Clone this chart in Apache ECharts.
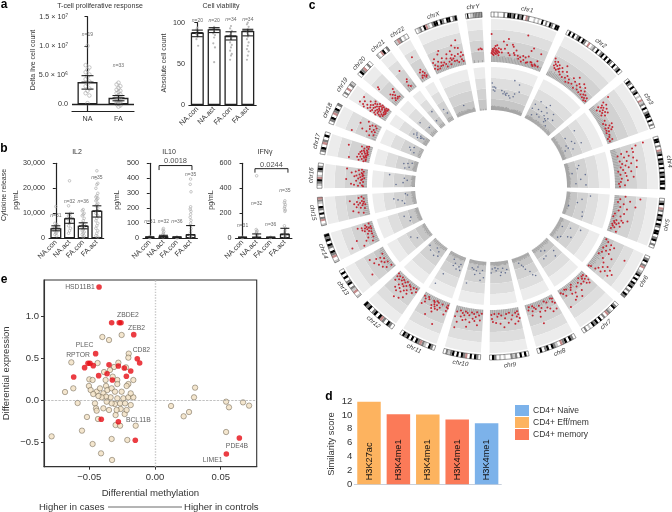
<!DOCTYPE html>
<html>
<head>
<meta charset="utf-8"/>
<title>T-cell panels</title>
<style>html,body{margin:0;padding:0;background:#fff}#chart{width:672px;height:512px}</style>
<script src="https://cdn.jsdelivr.net/npm/echarts@6/dist/echarts.min.js"></script>
</head>
<body>
<div id="chart"></div>
<script>
// panel a
const groupsA = ['NA','FA'];
const groups4 = ['NA.con','NA.act','FA.con','FA.act'];
const deltaMeans = [3800000,1100000];
const deltaLow = [2600000,600000];
const deltaHigh = [4900000,1500000];
const deltaDots = [
  [10,6.7,6.3,5.9,5.5,5.1,4.7,4.3,3.9,3.5,3.1,2.7,2.3,1.9,1.5,0.2],
  [3.7,3.4,3.1,2.8,2.5,2.3,2.1,1.9,1.7,1.5,1.3,1.2,1,0.9,0.8,0.7,0.6,0.5,0.4,0.3,0.2,0.1,0,-0.2,-0.4]
];
const deltaN = ['19','33'];
const deltaNy = [11900000,6700000];
const deltaTicks = [0,5000000,10000000,15000000];
const deltaTickText = ['0.0','5.0 × 10⁶','1.0 × 10⁷','1.5 × 10⁷'];

const viabMeans = [88,92,84,90];
const viabLow = [83,88,79,84];
const viabHigh = [91,94,89,92];
const viabDots = [
  [94,92,90,88,86,85,83,80,72],
  [95,93,91,89,87,85,82,75,70,52],
  [96,93,90,88,85,82,80,76,73,70,66,62,60,55],
  [100,98,95,92,88,85,83,80,76,72,68,65,60,55]
];
const viabN = ['20','20','34','34'];
const viabNy = [103,103,104,104];

// panel b
const il2Means = [4000,8000,5000,11000];
const il2Low = [3000,6000,3800,8500];
const il2High = [5000,10000,6200,13000];
const il2Dots = [
  [12700,6000,5500,5000,4500,4000,3500,3000,2500,2000,1500,1000],
  [23000,13000,10000,9500,9000,8500,8000,7500,7000,6000,5000,4000,3000,2000],
  [11500,11000,10000,9500,9000,8000,7000,6000,5500,5000,4500,4000,3500,3000,2500,2000,1500,1000,500],
  [27000,24000,22000,21500,20000,18000,17000,16500,16000,15500,15000,14000,13500,13000,12000,11000,10000,9000,8000,7000,6000,5000,4000,3000,2000,1000,500]
];
const il2N = ['31','32','36','35'];
const il2Ny = [9200,14800,14700,24200];

const il10Means = [8,12,8,25];
const il10Low = [5,2,5,0];
const il10High = [10,20,10,85];
const il10Dots = [
  [10,8,6,4],
  [65,55,45,35,25,15,10,5],
  [8,5,3],
  [395,360,310,210,195,180,160,140,120,100,85,65,45,30,20,10,5]
];
const il10N = ['31','32','36','35'];
const il10Ny = [112,112,112,425];

const ifnMeans = [8,10,8,35];
const ifnLow = [5,2,5,0];
const ifnHigh = [10,35,10,80];
const ifnDots = [
  [8,5],
  [500,70,60,50,40,30,20,10],
  [8,5],
  [300,285,270,255,240,225,215,100,80,60,40,20,10]
];
const ifnN = ['31','32','36','35'];
const ifnNy = [98,280,112,380];

const il10Bracket = [[0.68,455],[0.68,485],[3.1,485],[3.1,455]];
const ifnBracket = [[0.88,525],[0.88,557],[3.22,557],[3.22,525]];

// panel c, chromosome lengths in Mb
const chromNames = ['chr1','chr2','chr3','chr4','chr5','chr6','chr7','chr8','chr9','chr10','chr11','chr12','chr13','chr14','chr15','chr16','chr17','chr18','chr19','chr20','chr21','chr22','chrX','chrY'];
const chromMb = [249,243,198,191,181,171,159,146,141,135,135,133,115,107,102,90,81,78,59,63,48,51,155,59];
const chromGapDeg = 3;
const outerBands = [124,135,146,156.5,167];
const innerBands = [76,87,97.5,108,119];
const ideoRadii = [169,174];
const ideograms = [
  'wlwlwwgwkkgkwkgkwrgwwlwlwkwgwkgwkk','wkwkwgkwkgwrwlgwkwgkwkwkgwkwgkw','wkgwkwgkwlwrlgwkwgkkwkwgw','wkkwgwrgkwkgkwkwkgkwkkwk',
  'wgkwrgwkgkwkgwkkwgkwgw','wgkwgrwlgkwkwkgkwgwkg','wgkwlgrwgwkwkgkwlwgw','wgkwkgrwlgkwkgwkw',
  'wkwkwglgwwlwlwgkw','wgkwkwrgkwkwkglgw','wgkwlgrgkwkwkgkw','wgkwgrkwkgwkgk',
  'lwrlgwkgwkwkw','lwrgkwgkwkgk','lwrgwkwgkwlgr','wlgkrlwgkgw','wgkwrgwkw','wgkwrgkwg','wgwrwgl','wkgrwgw','lwrkwg','lrgwlw',
  'wlgwkrlwgkkwkgwkkwgk','wkwllgggggg'
];
const tickShades = [
  '8989878897888868978656768787968867',
  '578697886768979887786977868598786',
  '88796788678779868798788697',
  '7787978677986778968787768',
  '687787968778687967776',
  '78976787878696787787',
  '678987687968878797',
  '78687968798768797',
  '7698767899878767',
  '768778967886787',
  '867987678978679',
  '76878967889776',
  '5768796876875',
  '687978687967',
  '76887968798',
  '6978769887',
  '799887998',
  '6787868',
  '9999999',
  '8797868',
  '68878',
  '79988',
  '778979878789876797',
  '433'
];
// [position in % of chromosome, radius]
const redDots = [
  [1,133,2,135,3,137,3,132,4,134,5,136,5,131,6,138,7,133,8,135,8,140,9,132,9,137,10,134,11,136,11,141,12,133,13,135,14,138,14,131,15,134,1,152,18,137,20,134,22,145,25,138,28,142,30,148,32,134,35,132,38,143,40,141,42,135,44,133,60,155,46,138,50,133,52,130,55,132,58,128,60,134,62,130,65,133,68,128,70,135,72,141,75,144,78,130,80,128,82,127,85,129,87,128,88,133,90,141,92,128,76,130,70,129],
  [3,143,5,140,6,136,8,138,9,134,10,141,12,137,13,133,15,139,16,135,18,136,20,133,22,138,24,131,26,135,28,142,30,130,33,137,36,131,38,134,41,128,44,132,47,129,50,136,53,130,56,134,58,140,60,128,63,132,65,135,68,129,70,133,72,138,74,128,76,131,78,136,80,128,82,133,84,130,86,127,88,131,90,128,92,126,94,130,96,127],
  [5,147,8,140,10,133,12,137,14,130,15,135,16,141,18,137,20,132,22,135,24,139,26,133,28,136,30,131,32,138,35,134,55,130,58,136,60,133,62,128,64,131,66,135,68,128,70,133,72,130,74,127,80,129,85,128,88,126,92,130,95,127,45,131,50,128],
  [4,158,6,150,10,146,14,140,16,134,18,146,20,130,24,141,26,136,30,145,33,131,35,138,38,148,40,133,42,142,45,136,48,131,50,139,52,147,55,133,58,128,60,141,63,135,66,130,70,136,73,143,76,131,80,137,84,130,88,128,92,134,95,129],
  [3,135,6,150,10,130,14,140,18,128,22,134,26,146,30,131,34,138,40,130,46,136,50,127,54,133,58,126,62,141,64,135,66,130,68,137,70,128,72,133,74,129,76,131,78,127,80,135,82,128,85,130,90,127,95,133],
  [5,127,10,130,14,134,18,138,22,130,26,135,30,128,34,132,38,136,42,129,46,141,50,127,55,133,33,153,64,136,68,142,72,146,75,138,78,150,80,142,83,135,86,147,88,139,90,133,92,128,95,126],
  [3,131,6,135,8,128,10,138,12,132,14,128,16,136,18,130,20,133,25,127,30,133,35,130,40,138,45,132,50,143,55,127,58,136,60,129,62,140,65,131,68,135,70,142,75,128,80,127,85,133,90,130,92,145,95,128],
  [4,133,6,128,8,139,10,131,12,127,20,140,25,136,28,129,32,134,35,127,42,136,50,132,55,129,58,135,62,140,68,131,72,129,76,127,80,132,84,136,88,127,92,130,60,147],
  [3,135,5,131,7,128,9,138,11,133,14,129,20,140,25,131,30,135,35,128,40,138,45,129,50,133,55,142,62,130,66,138,70,128,75,131,80,137,85,128,90,136,95,129,93,133],
  [5,128,10,135,14,130,18,140,22,127,25,132,28,136,32,129,35,134,40,128,44,138,48,131,52,143,55,129,58,136,62,128,65,132,68,137,72,130,76,134,80,128,85,140,88,146,92,130,95,135],
  [3,130,5,127,6,133,8,129,10,137,25,128,30,132,32,150,35,135,40,128,42,131,44,135,46,127,48,133,50,139,52,131,54,129,56,136,58,128,60,133,75,129,80,127,85,133,88,130,92,136,95,128,65,144],
  [5,130,10,127,15,133,20,128,25,131,28,137,30,142,32,129,35,134,38,128,40,145,42,136,45,131,48,139,50,127,52,133,54,147,56,129,58,137,60,132,62,141,65,128,68,135,70,130,72,139,75,127,80,131,85,128,88,134,92,130,95,127],
  [15,127,20,132,30,135,35,128,40,131,45,137,50,133,55,129,60,140,65,132,70,136,75,128,80,142,30,148],
  [10,140,15,130,20,152,25,136,30,128,35,133,40,145,45,128,50,132,55,128,60,130,65,134,68,127,70,131,72,136,74,129,76,133,78,127,80,131,82,136,85,140,88,132,92,128],
  [15,130,20,135,30,140,35,128,40,132,45,136,50,130,52,127,55,134,58,129,60,138,62,132,65,128,68,135,70,130,75,142,80,128,85,133,90,130],
  [8,128,10,133,12,129,15,137,20,140,25,131,30,128,35,135,40,130,42,145,45,129,48,133,50,127,55,131,58,137,60,129,62,135,65,128,68,132,72,129,75,140,78,130,82,136,85,128,90,133,92,145,95,130],
  [5,130,8,135,10,128,12,145,15,132,18,128,22,137,25,130,28,134,30,128,33,131,36,129,40,136,42,128,45,133,48,127,50,130,52,135,55,128,58,131,60,134,63,128,66,132,70,129,73,148,78,132,82,128,85,135,90,130,95,128],
  [10,150,20,132,30,128,35,136,40,141,45,131,50,128,55,134,60,130,65,145,70,135,75,128,80,133,85,130,90,138],
  [5,136,8,142,10,150,12,131,14,138,16,146,18,133,20,141,22,152,24,135,26,129,28,144,30,138,32,131,34,148,36,135,38,141,40,129,42,137,44,133,46,145,48,128,50,140,52,135,54,130,56,143,58,136,60,128,62,139,64,133,66,147,68,130,70,137,72,142,74,129,76,134,78,140,80,131,82,136,84,128,86,143,88,133,90,138,92,130,94,135,96,128,45,152,65,155,25,156],
  [20,150,30,132,35,128,40,136,45,130,50,134,55,128,60,132,65,129,70,135,75,128,80,138,15,148],
  [40,130,50,134,55,128,65,136,60,147],
  [30,128,35,134,40,130,50,136,55,129,60,133,65,127,70,131,75,128,45,151],
  [3,130,5,136,8,133,10,128,12,139,14,131,18,128,20,135,24,130,26,142,28,133,30,130,32,145,34,137,36,132,40,130,42,127,46,135,50,139,52,131,55,128,58,134,60,132,62,141,64,137,66,133,68,130,70,146,72,135,75,130,78,143,80,128,82,136,84,150,86,142,88,133,90,130,92,137,94,128,96,134],
  [60,137,75,138,85,137]
];
const blueDots = [
  [3,103,5,99,6,96,9,99,10,95,12,98,28,96,32,93,35,95,38,93,40,92,42,94,48,92,52,90,55,108,60,92,62,95,68,105,72,98],
  [8,88,10,93,15,82,20,98,25,90,28,85,35,90,38,84,40,96,48,88,50,92,55,86,58,83,60,85,62,88,66,95,70,81,75,90,45,100],
  [25,100,30,88,50,92,55,85,60,94,65,86,70,82,75,90,68,100],
  [20,90,30,88,45,82,55,95,70,90,85,85,90,95],
  [10,100,25,92,40,88,60,80,70,95,85,96],
  [15,100,25,90,35,82,55,95,75,86,85,84,60,92],
  [20,90,30,95,50,84,60,89,65,82,75,90],
  [20,100,35,94,50,90,55,87,60,85,70,82,30,98],
  [15,85,25,88,35,83,45,87,50,90,60,83,70,85,75,82,90,83,95,87],
  [10,92,18,85,25,95,30,88,45,82,50,86,55,90,65,85,75,84,85,100],
  [10,90,15,84,30,90,45,85,50,88,60,82,75,100,85,112,20,87],
  [20,88,30,84,40,90,50,82,70,88,90,85],
  [45,90,70,95],
  [30,88,50,86,70,92],
  [40,90,60,98,75,84,20,88,85,86,50,94],
  [20,95,35,88,55,84,70,87,85,102],
  [15,88,30,84,50,90,60,86,72,82],
  [30,84,40,88,60,90,75,86],
  [35,88,50,85,60,84,70,86,45,93,55,90,65,82,75,91],
  [30,95,60,85],
  [30,85,60,95],
  [40,90,60,85],
  [50,85],
  []
];

// panel d
const histones = ['H3K27ac','H3K4me1','H3K4me1','H3K4me1','H3K4me1'];
const scoreNaive = [null,null,null,null,8.8];
const scoreEffMem = [11.9,null,10.05,null,null];
const scoreMemory = [null,10.1,null,9.35,null];

// panel e
const tanPoints = [
  [-0.0401,0.75],[-0.035,0.714],[-0.0254,0.774],[-0.0637,0.448],[-0.0437,0.44],[-0.02,0.552],[-0.0203,0.504],[-0.0279,0.444],[-0.0312,0.393],[-0.0388,0.333],[-0.0343,0.357],[-0.0221,0.389],[-0.0165,0.238],[-0.05,0.246],[-0.0475,0.238],[-0.0376,0.238],[-0.0322,0.278],[-0.0287,0.238],[-0.0203,0.19],[-0.0287,0.19],[-0.0622,0.139],[-0.0685,0.095],[-0.0503,0.167],[-0.049,0.119],[0.0305,0.147],[0.0297,0.032],[-0.0589,-0.036],[0.0122,-0.071],[0.0218,-0.194],[0.0259,-0.143],[0.0541,-0.02],[0.0563,-0.087],[0.067,-0.028],[0.0716,-0.067],[0.0541,-0.381],[-0.0787,-0.433],[-0.0556,-0.365],[-0.0475,-0.524],[-0.0411,-0.635],[-0.0327,-0.714],[-0.033,-0.464],[-0.0211,-0.476],[-0.0518,-0.202],[-0.0434,-0.226],[-0.03,-0.298],[-0.0266,-0.306],[-0.0147,-0.306],[-0.03,-0.179],[-0.0231,-0.167],[-0.0216,-0.119],
  [-0.0444,0.099],[-0.0419,0.139],[-0.0393,0.079],[-0.0373,0.167],[-0.0363,0.119],[-0.033,0.139],[-0.0305,0.099],[-0.0338,0.032],[-0.0373,0.04],[-0.0406,0.032],[-0.0431,0.048],[-0.047,0.071],[-0.0457,-0.04],[-0.0449,-0.099],[-0.0444,-0.127],[-0.0393,-0.099],[-0.035,-0.119],[-0.0305,-0.048],[-0.0266,-0.04],[-0.0241,0.02],[-0.0203,0.032],[-0.0165,0.032],[-0.0185,0.079],[-0.0216,0.167],[-0.0254,0.099],[-0.0287,0.02],[-0.033,-0.04],[-0.0368,-0.02],[-0.0261,-0.107],[-0.0228,-0.04],[-0.0185,-0.06],[-0.0292,-0.119]
];
const redPoints = [
  [-0.0426,1.345],[-0.033,0.92],[-0.0272,0.92],[-0.0259,0.92],[-0.0162,0.778],[-0.0452,0.552],[-0.0135,0.492],[-0.0117,0.44],[-0.051,0.437],[-0.0536,0.385],[-0.0495,0.437],[-0.047,0.409],[-0.035,0.42],[-0.0279,0.405],[-0.0234,0.381],[-0.0185,0.345],[-0.0365,0.313],[-0.0429,0.29],[-0.0218,0.282],[-0.0325,0.238],[-0.0619,0.274],[-0.0409,-0.23],[-0.0279,-0.258],[-0.015,-0.48],[0.0642,-0.452],[0.0543,-0.643]
];
const geneNames = ['HSD11B1','ZBDE2','ZEB2','CD82','PLEC','RPTOR','BCL11B','PDE4B','LIME1'];
const geneSpots = [[-0.0571,1.345],[-0.0206,1.008],[-0.014,0.857],[-0.0104,0.591],[-0.0536,0.659],[-0.0586,0.532],[-0.0127,-0.238],[0.0624,-0.552],[0.0439,-0.714]];
const methTicks = [-0.05,0,0.05];
const exprTicks = [-0.5,0,0.5,1];

const font = '"Liberation Sans", Arial, sans-serif';
const ink = '#222';
const dotGrey = '#a8a8a8';
const sectorFills = ['#ececec','#dedede','#d2d2d2','#c6c6c6','#fff','#c8c8c8','#808080','#000','#c58a8a'];
const ideoColor = {w:4,l:5,g:6,k:7,r:8};

let grids = [], xAxes = [], yAxes = [], series = [];

function textPoints(xi, yi, rows, size, color) {
  return {
    type:'scatter', xAxisIndex:xi, yAxisIndex:yi, symbolSize:0, clip:false, z:6, silent:true,
    data: rows.map(r => ({name:r[0], value:[r[1],r[2]]})),
    label:{show:true, position:'inside', formatter:p=>p.name, fontSize:size, color:color||'#333', fontFamily:font,
      rich:{i:{fontStyle:'italic',fontSize:size,color:color||'#333',fontFamily:font}}}
  };
}

// one bar panel with dots, error bars and n labels
function addBars(p) {
  let k = grids.length, xi = xAxes.length, yi = yAxes.length;
  grids.push({left:p.left, width:p.width, top:p.top, height:p.height});
  xAxes.push({gridIndex:k, type:'category', data:p.cats, position:'bottom',
    axisLine:{onZero:false, lineStyle:{color:ink,width:1.2}},
    axisTick:{alignWithLabel:true,length:3,lineStyle:{color:ink,width:1}},
    axisLabel:{rotate:p.rotate||0,fontSize:7.2,color:'#333',margin:p.rotate?3:5,fontFamily:font,interval:0}});
  xAxes.push({gridIndex:k, type:'value', min:-0.5, max:p.cats.length-0.5, show:false});
  let y = {gridIndex:k, type:'value', min:p.min, max:p.max, splitLine:{show:false},
    axisLine:{show:true,lineStyle:{color:ink,width:1.2}},
    axisTick:{show:true,length:3,lineStyle:{color:ink,width:1}, customValues:p.ticks},
    axisLabel:{fontSize:7.2,color:'#333',margin:4,fontFamily:font, customValues:p.ticks,
      formatter:v=>p.tickText[p.ticks.indexOf(v)]}};
  yAxes.push(y);
  let bar = {type:'bar', xAxisIndex:xi, yAxisIndex:yi, data:p.means, barWidth:p.barWidth, z:2,
    itemStyle:{color:'#fff',borderColor:ink,borderWidth:1.3}};
  if (p.zeroLine) bar.markLine = {silent:true,symbol:'none',label:{show:false},data:[{yAxis:0}],lineStyle:{color:ink,width:1.3,type:'solid'}};
  series.push(bar);
  let dots = [];
  p.dots.forEach((list,c) => list.forEach((v,i) => dots.push([c+[0,-1,1][i%3]*p.spread, v*(p.dotScale||1)])));
  series.push({type:'scatter', xAxisIndex:xi+1, yAxisIndex:yi, data:dots, symbolSize:p.dotSize, z:3, clip:false,
    itemStyle: p.filled ? {color:dotGrey} : {color:'rgba(255,255,255,0)',borderColor:dotGrey,borderWidth:0.8}});
  series.push({type:'custom', xAxisIndex:xi+1, yAxisIndex:yi, z:4,
    data:p.low.map((l,i)=>[i,l,p.high[i],p.means[i]]),
    renderItem:function(params,api){
      let a=api.coord([api.value(0),api.value(1)]), b=api.coord([api.value(0),api.value(2)]), m=api.coord([api.value(0),api.value(3)]);
      let s={stroke:ink,lineWidth:1.1}, w=p.cap;
      return {type:'group',children:[
        {type:'line',shape:{x1:a[0],y1:a[1],x2:b[0],y2:b[1]},style:s},
        {type:'line',shape:{x1:a[0]-w,y1:a[1],x2:a[0]+w,y2:a[1]},style:s},
        {type:'line',shape:{x1:b[0]-w,y1:b[1],x2:b[0]+w,y2:b[1]},style:s},
        {type:'line',shape:{x1:m[0]-w,y1:m[1],x2:m[0]+w,y2:m[1]},style:s}
      ]};
    }});
  series.push(textPoints(xi+1, yi, p.n.map((t,i)=>['{i|n}='+t, i, p.ny[i]]), 5, '#444'));
  if (p.bracket) {
    series.push({type:'line', xAxisIndex:xi+1, yAxisIndex:yi, data:p.bracket, symbol:'none', clip:false, z:5,
      lineStyle:{color:ink,width:1}});
    series.push(textPoints(xi+1, yi, [[p.bracketText, (p.bracket[0][0]+p.bracket[2][0])/2, p.bracketTextY]], 7.5, '#222'));
  }
}

addBars({left:72,width:62,top:16.7,height:94.3,cats:groupsA,means:deltaMeans,low:deltaLow,high:deltaHigh,
  dots:deltaDots,dotScale:1000000,n:deltaN,ny:deltaNy,min:-1150000,max:15000000,ticks:deltaTicks,tickText:deltaTickText,
  barWidth:20,cap:6,dotSize:3.6,spread:0.06,zeroLine:true});
addBars({left:188.9,width:67.3,top:22.7,height:82.3,cats:groups4,means:viabMeans,low:viabLow,high:viabHigh,
  dots:viabDots,n:viabN,ny:viabNy,min:0,max:100,ticks:[0,50,100],tickText:['0','50','100'],
  barWidth:13,cap:5.5,dotSize:2.2,spread:0.05,filled:true,rotate:45});
addBars({left:49,width:54.7,top:163.3,height:75,cats:groups4,means:il2Means,low:il2Low,high:il2High,
  dots:il2Dots,n:il2N,ny:il2Ny,min:0,max:30000,ticks:[0,10000,20000,30000],tickText:['0','10,000','20,000','30,000'],
  barWidth:11,cap:4.5,dotSize:2.6,spread:0.07,rotate:45});
addBars({left:143,width:54.4,top:163.3,height:75,cats:groups4,means:il10Means,low:il10Low,high:il10High,
  dots:il10Dots,n:il10N,ny:il10Ny,min:0,max:500,ticks:[0,100,200,300,400,500],tickText:['0','100','200','300','400','500'],
  barWidth:10,cap:4.5,dotSize:2.6,spread:0.03,rotate:45,bracket:il10Bracket,bracketText:'0.0018',bracketTextY:515});
addBars({left:235.5,width:56.4,top:163.3,height:75,cats:groups4,means:ifnMeans,low:ifnLow,high:ifnHigh,
  dots:ifnDots,n:ifnN,ny:ifnNy,min:0,max:600,ticks:[0,200,400,600],tickText:['0','200','400','600'],
  barWidth:10,cap:4.5,dotSize:2.6,spread:0.03,rotate:45,bracket:ifnBracket,bracketText:'0.0244',bracketTextY:590});

// panel d, three series so the legend gets its colours
{
  let k=grids.length, xi=xAxes.length, yi=yAxes.length;
  grids.push({left:354.3,width:147,top:401,height:83.3});
  xAxes.push({gridIndex:k,type:'category',data:histones,axisLine:{lineStyle:{color:'#c8d0dc',width:1}},axisTick:{show:false},axisLabel:{show:false}});
  yAxes.push({gridIndex:k,type:'value',min:0,max:12,interval:2,splitLine:{show:false},axisLine:{show:false},axisTick:{show:false},
    axisLabel:{fontSize:9.5,color:'#333',margin:2,fontFamily:font}});
  [['CD4+ Naive',scoreNaive,'#7cb2ea'],['CD4+ Eff/mem',scoreEffMem,'#fdb35f'],['CD4+ memory',scoreMemory,'#fb7a58']].forEach(s=>{
    series.push({name:s[0],type:'bar',xAxisIndex:xi,yAxisIndex:yi,data:s[1],barWidth:23.5,barGap:'-100%',
      itemStyle:{color:s[2]},
      label:{show:true,position:'insideBottom',rotate:90,align:'left',verticalAlign:'middle',distance:4,fontSize:9.2,color:'#111',fontFamily:font,
        formatter:p=>histones[p.dataIndex]}});
  });
}

// panel e
{
  let k=grids.length, xi=xAxes.length, yi=yAxes.length;
  grids.push({left:44,width:212.7,top:280,height:186.7,show:true,borderColor:'#333',borderWidth:1.1,backgroundColor:'#fff'});
  xAxes.push({gridIndex:k,type:'value',min:-0.0845,max:0.0774,splitLine:{show:false},
    axisLine:{onZero:false,lineStyle:{color:'#333',width:1.1}},axisTick:{length:3,lineStyle:{color:'#333'},customValues:methTicks},
    axisLabel:{fontSize:9.5,color:'#333',margin:6,fontFamily:font,customValues:methTicks,
      formatter:v=>v===0?'0.00':(v<0?'−':'')+Math.abs(v).toFixed(2)},
    name:'Differential methylation',nameLocation:'middle',nameGap:22,nameTextStyle:{fontSize:9.6,color:'#333',fontFamily:font}});
  yAxes.push({gridIndex:k,type:'value',min:-0.794,max:1.4286,splitLine:{show:false},
    axisLine:{onZero:false,lineStyle:{color:'#333',width:1.1}},axisTick:{length:3,lineStyle:{color:'#333'},customValues:exprTicks},
    axisLabel:{fontSize:9.5,color:'#333',margin:5,fontFamily:font,customValues:exprTicks,
      formatter:v=>v===0?'0.0':(v<0?'−':'')+Math.abs(v).toFixed(1)},
    name:'Differential expression',nameLocation:'middle',nameGap:33,nameTextStyle:{fontSize:9.5,color:'#333',fontFamily:font}});
  series.push({type:'scatter',xAxisIndex:xi,yAxisIndex:yi,data:tanPoints,symbolSize:5.4,z:3,
    itemStyle:{color:'#f1e0c2',borderColor:'#5c5240',borderWidth:0.6},
    markLine:{silent:true,symbol:'none',label:{show:false},data:[
      {xAxis:0,lineStyle:{color:'#c9c9c9',width:1.4,type:'dotted'}},
      {yAxis:0,lineStyle:{color:'#999',width:0.6,type:'dashed'}}]}});
  series.push({type:'scatter',xAxisIndex:xi,yAxisIndex:yi,data:redPoints,symbolSize:5.6,z:4,itemStyle:{color:'#e60c14'}});
  series.push(textPoints(xi,yi,geneNames.map((g,i)=>[g,geneSpots[i][0],geneSpots[i][1]]),6.8,'#333'));
}

// panel c
let sectors=[], tickRows=[], labelRows=[], redRows=[], blueRows=[];
{
  let total = chromMb.reduce((a,b)=>a+b,0);
  let perMb = (360-chromGapDeg*chromMb.length)/total;
  let start = 0;
  chromMb.forEach((mb,c)=>{
    let span = mb*perMb, end = start+span;
    for (let b=0;b<4;b++) {
      sectors.push([start,end,outerBands[b],outerBands[b+1],3-b]);
      sectors.push([start,end,innerBands[b],innerBands[b+1],3-b]);
    }
    let cells = ideograms[c];
    for (let i=0;i<cells.length;i++) {
      sectors.push([start+span*i/cells.length,start+span*(i+1)/cells.length,ideoRadii[0],ideoRadii[1],ideoColor[cells[i]]]);
    }
    sectors.push([start,end,ideoRadii[0],ideoRadii[1],-1]);
    let shades = tickShades[c];
    for (let i=0;i<shades.length;i++) {
      let a = start+span*(i+0.5)/shades.length;
      tickRows.push([a,outerBands[0],+shades[i]*0.75]);
      tickRows.push([a,innerBands[0],+shades[i]*0.5]);
    }
    labelRows.push([(start+end)/2,180,c]);
    let red=redDots[c], blue=blueDots[c];
    for (let i=0;i<red.length;i+=2) redRows.push([red[i+1],start+span*red[i]/100]);
    for (let i=0;i<blue.length;i+=2) blueRows.push([blue[i+1],start+span*blue[i]/100]);
    start = end+chromGapDeg;
  });
}

series.push({type:'custom',coordinateSystem:'polar',polarIndex:0,data:sectors,z:1,silent:true,
  encode:{angle:0,radius:2},
  renderItem:function(params,api){
    let a0=api.value(0),a1=api.value(1),r0=api.value(2),r1=api.value(3),c=api.value(4);
    let pts=[], steps=Math.max(2,Math.ceil((a1-a0)/0.5));
    for (let i=0;i<=steps;i++) pts.push(api.coord([r1,a0+(a1-a0)*i/steps]));
    for (let i=steps;i>=0;i--) pts.push(api.coord([r0,a0+(a1-a0)*i/steps]));
    return {type:'polygon',shape:{points:pts},
      style:c<0?{fill:'none',stroke:'#333',lineWidth:0.5}:{fill:sectorFills[c]}};
  }});
series.push({type:'custom',coordinateSystem:'polar',polarIndex:0,data:tickRows,z:2,silent:true,
  encode:{angle:0,radius:1},
  renderItem:function(params,api){
    let a=api.coord([api.value(1),api.value(0)]),b=api.coord([api.value(1)+api.value(2),api.value(0)]);
    return {type:'line',shape:{x1:a[0],y1:a[1],x2:b[0],y2:b[1]},style:{stroke:'#666',lineWidth:0.7,opacity:0.5}};
  }});
series.push({type:'scatter',coordinateSystem:'polar',polarIndex:0,data:blueRows,symbolSize:1.6,z:3,silent:true,itemStyle:{color:'#46557e'}});
series.push({type:'scatter',coordinateSystem:'polar',polarIndex:0,data:redRows,symbolSize:2,z:3,silent:true,itemStyle:{color:'#c41e2a',opacity:0.95}});
series.push({type:'custom',coordinateSystem:'polar',polarIndex:0,data:labelRows,z:4,silent:true,
  encode:{angle:0,radius:1},
  renderItem:function(params,api){
    let a=api.value(0), p=api.coord([api.value(1),a]);
    let cw=(a>90&&a<270)?a-180:a;
    return {type:'text',x:p[0],y:p[1],rotation:-cw*Math.PI/180,
      style:{text:chromNames[api.value(2)],align:'center',verticalAlign:'middle',fontSize:6.3,fontStyle:'italic',fontFamily:font,fill:'#333'}};
  }});

function txt(x,y,s,size,opt) {
  opt=opt||{};
  return {type:'text',x:x,y:y,rotation:opt.rot||0,z:10,silent:true,
    style:{text:s,fontSize:size,fontFamily:font,fontWeight:opt.bold?'bold':'normal',fill:opt.fill||'#333',align:opt.align||'center',verticalAlign:'middle'}};
}
const up = Math.PI/2;

var chart = echarts.init(document.getElementById('chart'),null,{renderer:'canvas'});
chart.setOption({
  animation:false,
  backgroundColor:'#fff',
  textStyle:{fontFamily:font},
  grid:grids, xAxis:xAxes, yAxis:yAxes,
  polar:{center:[491,186],radius:174},
  angleAxis:{type:'value',min:0,max:360,show:false},
  radiusAxis:{type:'value',min:0,max:174,show:false},
  legend:{orient:'vertical',left:515,top:405,padding:0,itemWidth:14,itemHeight:11,itemGap:1,icon:'rect',selectedMode:false,
    data:['CD4+ Naive','CD4+ Eff/mem','CD4+ memory'],textStyle:{fontSize:8.5,color:'#333',fontFamily:font,padding:[0,0,0,-1]}},
  graphic:[
    txt(4,5,'a',12,{bold:true,fill:'#000'}),txt(4,149,'b',12,{bold:true,fill:'#000'}),
    txt(312,6,'c',12,{bold:true,fill:'#000'}),txt(329,397,'d',12,{bold:true,fill:'#000'}),txt(4,280,'e',12,{bold:true,fill:'#000'}),
    txt(100,6,'T-cell proliferative response',7),txt(221,6,'Cell viability',7),
    txt(33,60,'Delta live cell count',7,{rot:up}),txt(164,63,'Absolute cell count',7,{rot:up}),
    txt(77,152,'IL2',7),txt(169,152,'IL10',7),txt(265,152,'IFNγ',7),
    txt(4,195,'Cytokine release',7,{rot:up}),txt(16,200,'pg/mL',7,{rot:up}),
    txt(117,200,'pg/mL',7,{rot:up}),txt(211,200,'pg/mL',7,{rot:up}),
    txt(331,444,'Similarity score',9.4,{rot:up}),
    txt(39,507,'Higher in cases',9.5,{align:'left'}),txt(184,507,'Higher in controls',9.6,{align:'left'}),
    {type:'line',shape:{x1:108,y1:507,x2:182,y2:507},style:{stroke:'#444',lineWidth:0.8},z:10}
  ],
  series:series
});
</script>
</body>
</html>
